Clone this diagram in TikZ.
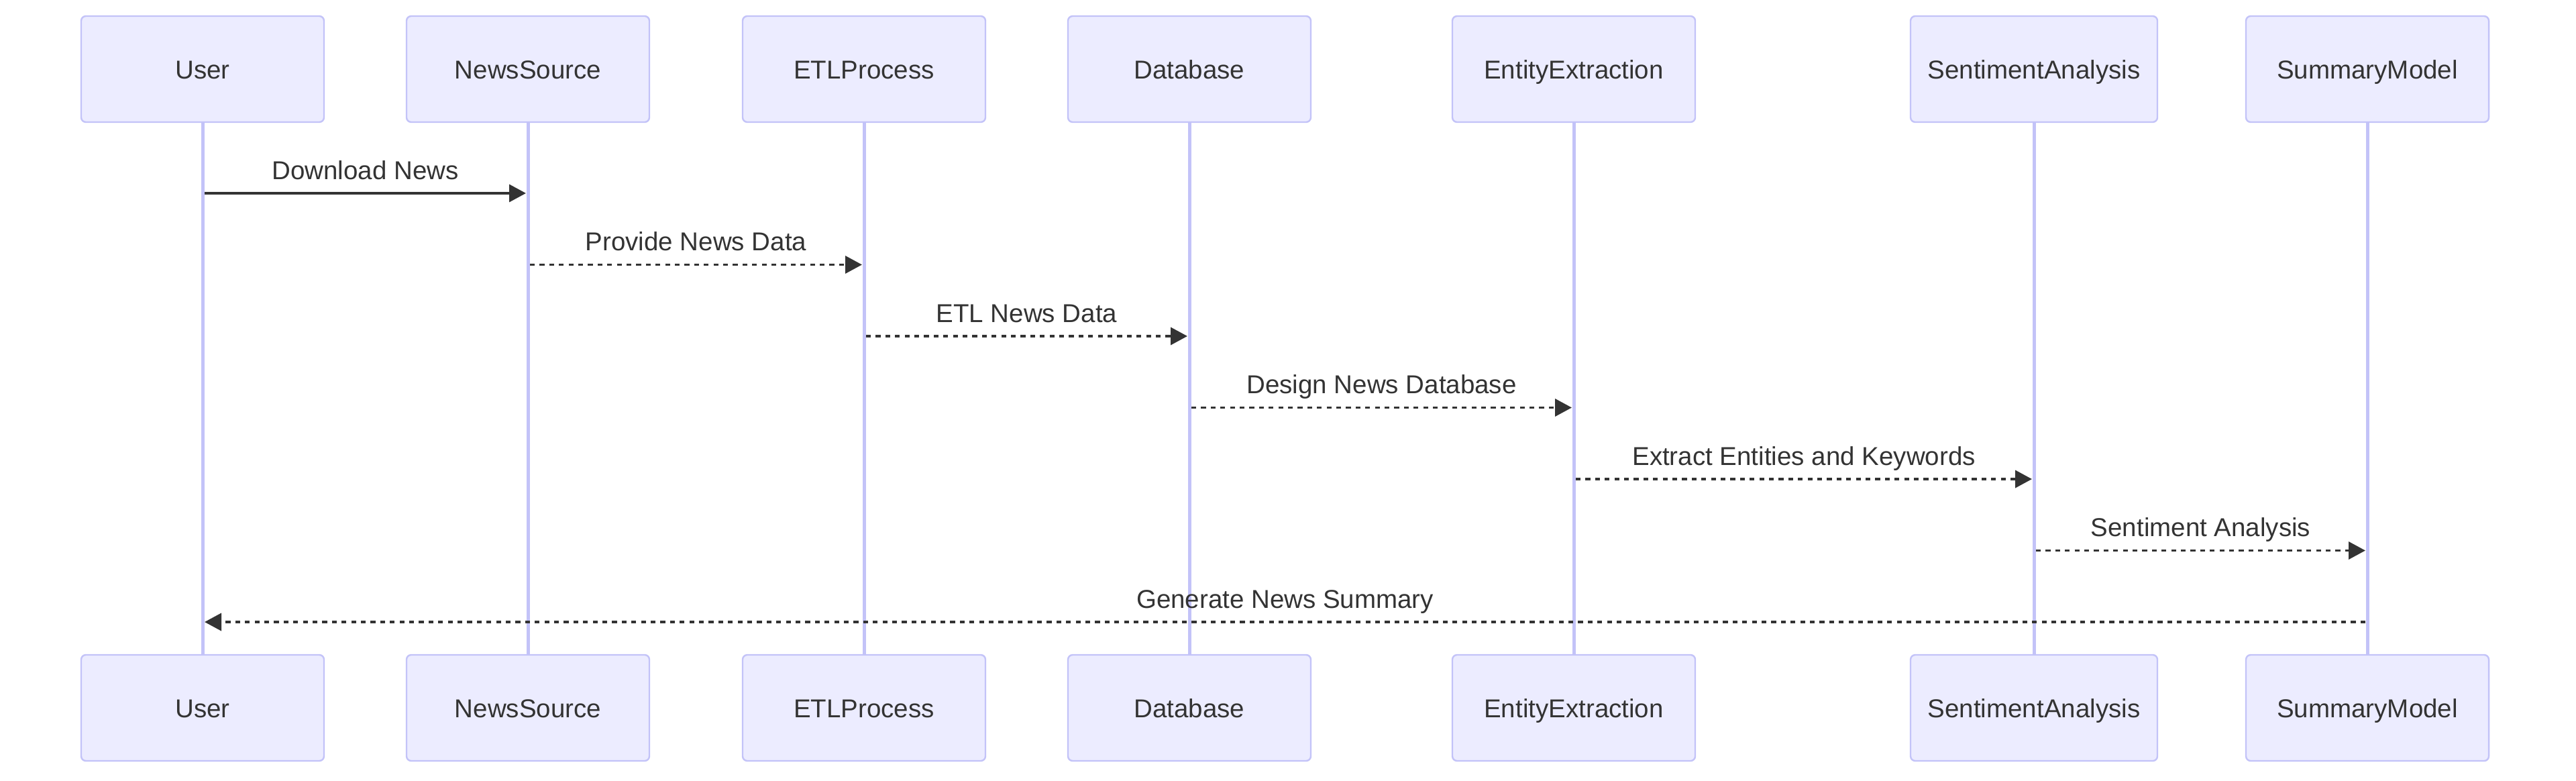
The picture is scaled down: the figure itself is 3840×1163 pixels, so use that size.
\documentclass[tikz,border=0pt]{standalone}
\usepackage{fontspec}
\setmainfont{Liberation Sans}
\usetikzlibrary{arrows.meta,calc}
\definecolor{actfill}{HTML}{ECECFF}
\definecolor{actline}{HTML}{C3C3F8}
\definecolor{ink}{HTML}{333333}
\tikzset{
  actor/.style={draw=actline, fill=actfill, line width=2.4pt, rounded corners=7pt,
    minimum width=362pt, minimum height=158pt, inner sep=0pt, text=ink,
    text height=28pt, text depth=0pt,
    font=\fontsize{38.5}{46}\selectfont},
  life/.style={draw=actline, line width=5pt},
  msg/.style={draw=ink, line width=3.6pt, shorten >=3pt, shorten <=3pt,
    -{Triangle[length=25pt,width=26pt]}},
  msgdot/.style={msg, dash pattern=on 7.2pt off 7.2pt},
  lbl/.style={text=ink, font=\fontsize{38.5}{46}\selectfont, anchor=base, inner sep=0pt}
}
\begin{document}
\begin{tikzpicture}[x=1pt,y=-1pt]
\useasboundingbox (0,0) rectangle (3840,1163);
% top actors
\node[actor] (uT) at (302,103) {User};
\node[actor] (nT) at (787,103) {NewsSource};
\node[actor] (eT) at (1288,103) {ETLProcess};
\node[actor] (dT) at (1773,103) {Database};
\node[actor] (xT) at (2346,103) {EntityExtraction};
\node[actor, minimum width=368pt] (sT) at (3032,103) {SentimentAnalysis};
\node[actor] (mT) at (3529,103) {SummaryModel};
% bottom actors
\node[actor] (uB) at (302,1055) {User};
\node[actor] (nB) at (787,1055) {NewsSource};
\node[actor] (eB) at (1288,1055) {ETLProcess};
\node[actor] (dB) at (1773,1055) {Database};
\node[actor] (xB) at (2346,1055) {EntityExtraction};
\node[actor, minimum width=368pt] (sB) at (3032,1055) {SentimentAnalysis};
\node[actor] (mB) at (3529,1055) {SummaryModel};
% lifelines
\foreach \a in {u,n,e,d,x,s,m}{
  \draw[life] (\a T.south) -- (\a B.north);
}
% message levels
\coordinate (y1) at (0,288);
\coordinate (y2) at (0,394.5);
\coordinate (y3) at (0,501);
\coordinate (y4) at (0,607.5);
\coordinate (y5) at (0,714);
\coordinate (y6) at (0,820.5);
\coordinate (y7) at (0,927);
% messages
\draw[msg] (uT |- y1) -- (nT |- y1);
\draw[msgdot] (nT |- y2) -- (eT |- y2);
\draw[msgdot] (eT |- y3) -- (dT |- y3);
\draw[msgdot] (dT |- y4) -- (xT |- y4);
\draw[msgdot] (xT |- y5) -- (sT |- y5);
\draw[msgdot] (sT |- y6) -- (mT |- y6);
\draw[msgdot] (mT |- y7) -- (uT |- y7);
% labels
\node[lbl] (l1) at ($(uT |- y1)!0.5!(nT |- y1) + (0,-21)$) {Download News};
\node[lbl] (l2) at ($(nT |- y2)!0.5!(eT |- y2) + (0,-21)$) {Provide News Data};
\node[lbl] (l3) at ($(eT |- y3)!0.5!(dT |- y3) + (0,-21)$) {ETL News Data};
\node[lbl] (l4) at ($(dT |- y4)!0.5!(xT |- y4) + (0,-21)$) {Design News Database};
\node[lbl] (l5) at ($(xT |- y5)!0.5!(sT |- y5) + (0,-21)$) {Extract Entities and Keywords};
\node[lbl] (l6) at ($(sT |- y6)!0.5!(mT |- y6) + (0,-21)$) {Sentiment Analysis};
\node[lbl] (l7) at ($(uT |- y7)!0.5!(mT |- y7) + (0,-21)$) {Generate News Summary};
\end{tikzpicture}
\end{document}
